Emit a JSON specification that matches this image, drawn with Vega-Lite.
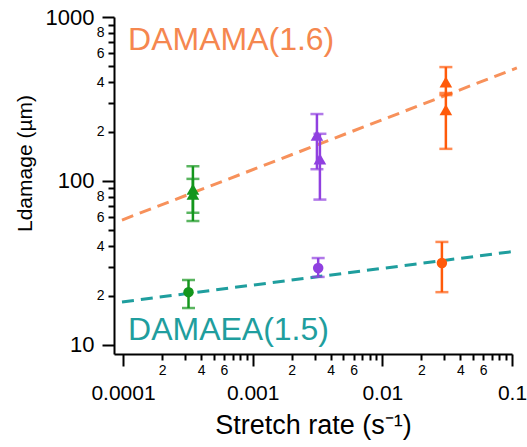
{
  "$schema": "https://vega.github.io/schema/vega-lite/v6.json",
  "width": 398,
  "height": 337,
  "autosize": {"type": "none"},
  "padding": {"left": 114, "top": 17, "right": 15, "bottom": 93},
  "background": "white",
  "config": {
    "view": {"stroke": null},
    "font": "Liberation Sans",
    "axisY": {
      "titleX": -89,
      "titleY": 146,
      "titleAngle": 270,
      "titleAlign": "center",
      "titleBaseline": "middle",
      "titleFont": "Liberation Sans",
      "titleFontSize": 21,
      "titleFontWeight": "normal",
      "titleColor": "black"
    }
  },
  "datasets": {
    "pts": [
      {"g": "green", "m": "tri", "x": 0.000346, "y": 89, "lo": 57, "hi": 123},
      {"g": "green", "m": "tri", "x": 0.000346, "y": 83, "lo": 64, "hi": 103},
      {"g": "purple", "m": "tri", "x": 0.00313, "y": 190, "lo": 118, "hi": 256},
      {"g": "purple", "m": "tri", "x": 0.0033, "y": 136, "lo": 77, "hi": 194},
      {"g": "orange", "m": "tri", "x": 0.0309, "y": 402, "lo": 334, "hi": 495},
      {"g": "orange", "m": "tri", "x": 0.0309, "y": 272, "lo": 157, "hi": 344},
      {"g": "green", "m": "circle", "x": 0.00032, "y": 21.0, "lo": 16.8, "hi": 24.9},
      {"g": "purple", "m": "circle", "x": 0.0032, "y": 29.5, "lo": 26.0, "hi": 33.9},
      {"g": "orange", "m": "circle", "x": 0.0288, "y": 31.6, "lo": 21.0, "hi": 42.5}
    ],
    "fits": [
      {"line": "DAMAMA", "x": 0.0000982, "y": 57.8},
      {"line": "DAMAMA", "x": 0.109, "y": 489},
      {"line": "DAMAEA", "x": 0.0000982, "y": 18.3},
      {"line": "DAMAEA", "x": 0.109, "y": 37.4}
    ],
    "labels": [
      {"label": "DAMAMA(1.6)", "x": 0.0001093, "y": 630},
      {"label": "DAMAEA(1.5)", "x": 0.0001093, "y": 10.73}
    ]
  },
  "encoding": {
    "x": {
      "field": "x",
      "type": "quantitative",
      "scale": {"type": "log", "domain": [0.0000852, 0.1], "nice": false},
      "axis": {
        "title": "Stretch rate (s⁻¹)",
        "values": [0.0001, 0.0002, 0.0003, 0.0004, 0.0005, 0.0006, 0.0007, 0.0008, 0.0009, 0.001, 0.002, 0.003, 0.004, 0.005, 0.006, 0.007, 0.008, 0.009, 0.01, 0.02, 0.03, 0.04, 0.05, 0.06, 0.07, 0.08, 0.09, 0.1],
        "labelExpr": "abs(log(datum.value)/LN10 - round(log(datum.value)/LN10)) < 0.001 ? format(datum.value, '') : (indexof([2,4,6], round(datum.value/pow(10, floor(log(datum.value)/LN10 + 0.0001)))) >= 0 ? '' + round(datum.value/pow(10, floor(log(datum.value)/LN10 + 0.0001))) : '')",
        "grid": false,
        "domainColor": "black",
        "domainWidth": 2,
        "tickColor": "black",
        "tickWidth": 2,
        "tickSize": {"condition": {"test": "abs(log(datum.value)/LN10 - round(log(datum.value)/LN10)) < 0.001", "value": 12}, "value": 6},
        "labelFontSize": {"condition": {"test": "abs(log(datum.value)/LN10 - round(log(datum.value)/LN10)) < 0.001", "value": 21}, "value": 14},
        "labelPadding": {"condition": {"test": "abs(log(datum.value)/LN10 - round(log(datum.value)/LN10)) < 0.001", "value": 16}, "value": 3},
        "labelBaseline": "top",
        "labelColor": "black",
        "labelFont": "Liberation Sans",
        "labelOverlap": false,
        "labelFlush": false,
        "titleFont": "Liberation Sans",
        "titleFontSize": 27,
        "titleFontWeight": "normal",
        "titleColor": "black",
        "titleY": 79,
        "titleBaseline": "alphabetic"
      }
    },
    "y": {
      "field": "y",
      "type": "quantitative",
      "scale": {"type": "log", "domain": [8.81, 1000], "nice": false},
      "axis": {
        "title": "Ldamage (µm)",
        "values": [10, 20, 30, 40, 50, 60, 70, 80, 90, 100, 200, 300, 400, 500, 600, 700, 800, 900, 1000],
        "labelExpr": "abs(log(datum.value)/LN10 - round(log(datum.value)/LN10)) < 0.001 ? format(datum.value, '') : (indexof([2,4,6,8], round(datum.value/pow(10, floor(log(datum.value)/LN10 + 0.0001)))) >= 0 ? '' + round(datum.value/pow(10, floor(log(datum.value)/LN10 + 0.0001))) : '')",
        "grid": false,
        "domainColor": "black",
        "domainWidth": 2,
        "tickColor": "black",
        "tickWidth": 2,
        "tickSize": {"condition": {"test": "abs(log(datum.value)/LN10 - round(log(datum.value)/LN10)) < 0.001", "value": 12}, "value": 6},
        "labelFontSize": {"condition": {"test": "abs(log(datum.value)/LN10 - round(log(datum.value)/LN10)) < 0.001", "value": 22}, "value": 14},
        "labelPadding": {"condition": {"test": "abs(log(datum.value)/LN10 - round(log(datum.value)/LN10)) < 0.001", "value": 8}, "value": 4},
        "labelColor": "black",
        "labelFont": "Liberation Sans",
        "labelOverlap": false,
        "labelFlush": false
      }
    }
  },
  "layer": [
    {
      "data": {"name": "fits"},
      "mark": {"type": "line", "strokeDash": [12, 7], "strokeWidth": 3},
      "encoding": {
        "color": {"field": "line", "type": "nominal", "scale": {"domain": ["DAMAMA", "DAMAEA"], "range": ["#f7915b", "#1f9e9e"]}, "legend": null}
      }
    },
    {
      "data": {"name": "pts"},
      "mark": {"type": "rule", "strokeWidth": 2.5},
      "encoding": {
        "y": {"field": "lo", "type": "quantitative", "scale": {"type": "log", "domain": [8.81, 1000], "nice": false}, "axis": {"title": "Ldamage (µm)"}},
        "y2": {"field": "hi"},
        "color": {"field": "g", "type": "nominal", "scale": {"domain": ["green", "purple", "orange"], "range": ["#14961c", "#9040e0", "#ff5a0a"]}, "legend": null}
      }
    },
    {
      "data": {"name": "pts"},
      "mark": {"type": "tick", "orient": "horizontal", "size": 13, "thickness": 2.5},
      "encoding": {
        "y": {"field": "lo", "type": "quantitative", "scale": {"type": "log", "domain": [8.81, 1000], "nice": false}, "axis": {"title": "Ldamage (µm)"}},
        "color": {"field": "g", "type": "nominal", "scale": {"domain": ["green", "purple", "orange"], "range": ["#14961c", "#9040e0", "#ff5a0a"]}, "legend": null}
      }
    },
    {
      "data": {"name": "pts"},
      "mark": {"type": "tick", "orient": "horizontal", "size": 13, "thickness": 2.5},
      "encoding": {
        "y": {"field": "hi", "type": "quantitative", "scale": {"type": "log", "domain": [8.81, 1000], "nice": false}, "axis": {"title": "Ldamage (µm)"}},
        "color": {"field": "g", "type": "nominal", "scale": {"domain": ["green", "purple", "orange"], "range": ["#14961c", "#9040e0", "#ff5a0a"]}, "legend": null}
      }
    },
    {
      "data": {"name": "pts"},
      "mark": {"type": "point", "filled": true, "opacity": 1},
      "encoding": {
        "color": {"field": "g", "type": "nominal", "scale": {"domain": ["green", "purple", "orange"], "range": ["#14961c", "#9040e0", "#ff5a0a"]}, "legend": null},
        "shape": {"field": "m", "type": "nominal", "scale": {"domain": ["tri", "circle"], "range": ["triangle-up", "circle"]}, "legend": null},
        "size": {"field": "m", "type": "nominal", "scale": {"domain": ["tri", "circle"], "range": [160, 110]}, "legend": null}
      }
    },
    {
      "data": {"name": "labels"},
      "mark": {"type": "text", "align": "left", "baseline": "alphabetic", "fontSize": 32, "font": "Liberation Sans"},
      "encoding": {
        "text": {"field": "label"},
        "color": {"field": "label", "type": "nominal", "scale": {"domain": ["DAMAMA(1.6)", "DAMAEA(1.5)"], "range": ["#f5874f", "#1f9e9e"]}, "legend": null}
      }
    }
  ],
  "resolve": {"scale": {"color": "independent", "shape": "independent", "size": "independent"}}
}
